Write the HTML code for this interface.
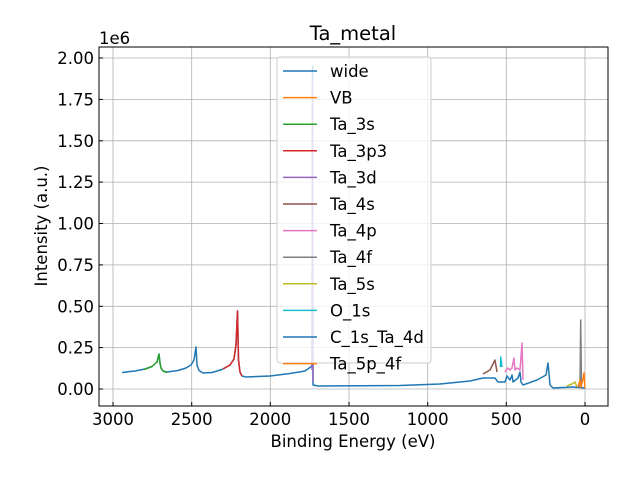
<!DOCTYPE html><html><head><style>body{margin:0;background:#fff}svg text{font-family:"DejaVu Sans","Liberation Sans",sans-serif}</style></head><body>
<svg width="640" height="480" viewBox="0 0 640 480">
<rect width="640" height="480" fill="#fff"/>
<g stroke="#b0b0b0" stroke-width="0.8">
<line x1="113" y1="47" x2="113" y2="406"/><line x1="191.7" y1="47" x2="191.7" y2="406"/><line x1="270.3" y1="47" x2="270.3" y2="406"/><line x1="349" y1="47" x2="349" y2="406"/><line x1="427.7" y1="47" x2="427.7" y2="406"/><line x1="506.3" y1="47" x2="506.3" y2="406"/><line x1="585" y1="47" x2="585" y2="406"/>
<line x1="99" y1="389" x2="608" y2="389"/><line x1="99" y1="347.6" x2="608" y2="347.6"/><line x1="99" y1="306.3" x2="608" y2="306.3"/><line x1="99" y1="264.9" x2="608" y2="264.9"/><line x1="99" y1="223.5" x2="608" y2="223.5"/><line x1="99" y1="182.1" x2="608" y2="182.1"/><line x1="99" y1="140.8" x2="608" y2="140.8"/><line x1="99" y1="99.4" x2="608" y2="99.4"/><line x1="99" y1="58" x2="608" y2="58"/>
</g>
<g fill="none" stroke-width="1.5" stroke-linejoin="round">
<polyline stroke="#1f77b4" points="122,372.5 135,371 145,369 152,366.5 157,362 159,354 160,363 161,368 163,371 167,372 178,370.5 186,368 191,365 194,360 196,347 197,365 199,370.5 203,373 212,372.5 222,369.5 230,365 234,359 236,345 237.5,311 238.5,360 240,372 242,376 246,377 270,376 290,373.5 305,371 312,366 312.5,66 313,385 318,386 400,385.5 440,384 470,381 483,378 495,378 498,382 505,382 507,376 510,380 512,375 513,382 518,378 520,372 521,382 523,385 537,380 546,375 548,363 550,385 553,388 573,387 585,388"/>
<polyline stroke="#2ca02c" points="144,369.5 152,366.5 157,362 159,354 160,363 161,368 163,371 167,372.5"/>
<polyline stroke="#d62728" points="223,369 230,365 234,359 236,345 237.5,311 238.5,360 240,372 242,376"/>
<polyline stroke="#9467bd" points="312,370 312.5,80 313,382"/>
<polyline stroke="#8c564b" points="483,374 490,370 495,360 497,372"/>
<polyline stroke="#17becf" points="500.5,367 500.7,357 502,367"/>
<polyline stroke="#e377c2" points="505,372 508,368 510,370 512,368 514,358 515,370 517,368 520,370 522,343 523,380"/>
<polyline stroke="#7f7f7f" points="580,388 580.7,320 581.5,388"/>
<polyline stroke="#bcbd22" points="567,386 572,384 575,382 577,387"/>
<polyline stroke="#ff7f0e" points="578,387 580,380 581,387 583,379 584,373 585,388"/>
</g>
<rect x="99" y="47" width="509" height="359" fill="none" stroke="#000" stroke-width="1"/>
<g stroke="#000"><line x1="113" y1="406" x2="113" y2="402"/><line x1="191.7" y1="406" x2="191.7" y2="402"/><line x1="270.3" y1="406" x2="270.3" y2="402"/><line x1="349" y1="406" x2="349" y2="402"/><line x1="427.7" y1="406" x2="427.7" y2="402"/><line x1="506.3" y1="406" x2="506.3" y2="402"/><line x1="585" y1="406" x2="585" y2="402"/></g>
<g stroke="#000"><line x1="99" y1="389" x2="103" y2="389"/><line x1="99" y1="347.6" x2="103" y2="347.6"/><line x1="99" y1="306.3" x2="103" y2="306.3"/><line x1="99" y1="264.9" x2="103" y2="264.9"/><line x1="99" y1="223.5" x2="103" y2="223.5"/><line x1="99" y1="182.1" x2="103" y2="182.1"/><line x1="99" y1="140.8" x2="103" y2="140.8"/><line x1="99" y1="99.4" x2="103" y2="99.4"/><line x1="99" y1="58" x2="103" y2="58"/></g>
<g font-size="16.5" text-anchor="middle" fill="#000">
<text x="113" y="425">3000</text><text x="191.7" y="425">2500</text><text x="270.3" y="425">2000</text><text x="349" y="425">1500</text><text x="427.7" y="425">1000</text><text x="506.3" y="425">500</text><text x="585" y="425">0</text>
<text x="353" y="447">Binding Energy (eV)</text>
<text x="353" y="40" font-size="19.5">Ta_metal</text>
</g>
<g font-size="16.5" text-anchor="end"><text x="94" y="395">0.00</text><text x="94" y="353.6">0.25</text><text x="94" y="312.3">0.50</text><text x="94" y="270.9">0.75</text><text x="94" y="229.5">1.00</text><text x="94" y="188.1">1.25</text><text x="94" y="146.8">1.50</text><text x="94" y="105.4">1.75</text><text x="94" y="64">2.00</text></g>
<text x="99" y="44" font-size="16.5">1e6</text>
<text transform="translate(47,226) rotate(-90)" font-size="16.5" text-anchor="middle">Intensity (a.u.)</text>
<rect x="277" y="57" width="154" height="306" rx="3" fill="#fff" fill-opacity="0.8" stroke="#ccc"/>
<g stroke-width="1.5">
<line x1="283" x2="317" y1="71" y2="71" stroke="#1f77b4"/><line x1="283" x2="317" y1="97.6" y2="97.6" stroke="#ff7f0e"/><line x1="283" x2="317" y1="124.2" y2="124.2" stroke="#2ca02c"/><line x1="283" x2="317" y1="150.8" y2="150.8" stroke="#d62728"/><line x1="283" x2="317" y1="177.4" y2="177.4" stroke="#9467bd"/><line x1="283" x2="317" y1="204" y2="204" stroke="#8c564b"/><line x1="283" x2="317" y1="230.6" y2="230.6" stroke="#e377c2"/><line x1="283" x2="317" y1="257.2" y2="257.2" stroke="#7f7f7f"/><line x1="283" x2="317" y1="283.8" y2="283.8" stroke="#bcbd22"/><line x1="283" x2="317" y1="310.4" y2="310.4" stroke="#17becf"/><line x1="283" x2="317" y1="337" y2="337" stroke="#1f77b4"/><line x1="283" x2="317" y1="363.6" y2="363.6" stroke="#ff7f0e"/>
</g>
<g font-size="16.5"><text x="330" y="77">wide</text><text x="330" y="103.6">VB</text><text x="330" y="130.2">Ta_3s</text><text x="330" y="156.8">Ta_3p3</text><text x="330" y="183.4">Ta_3d</text><text x="330" y="210">Ta_4s</text><text x="330" y="236.6">Ta_4p</text><text x="330" y="263.2">Ta_4f</text><text x="330" y="289.8">Ta_5s</text><text x="330" y="316.4">O_1s</text><text x="330" y="343">C_1s_Ta_4d</text><text x="330" y="369.6">Ta_5p_4f</text></g>
</svg></body></html>
